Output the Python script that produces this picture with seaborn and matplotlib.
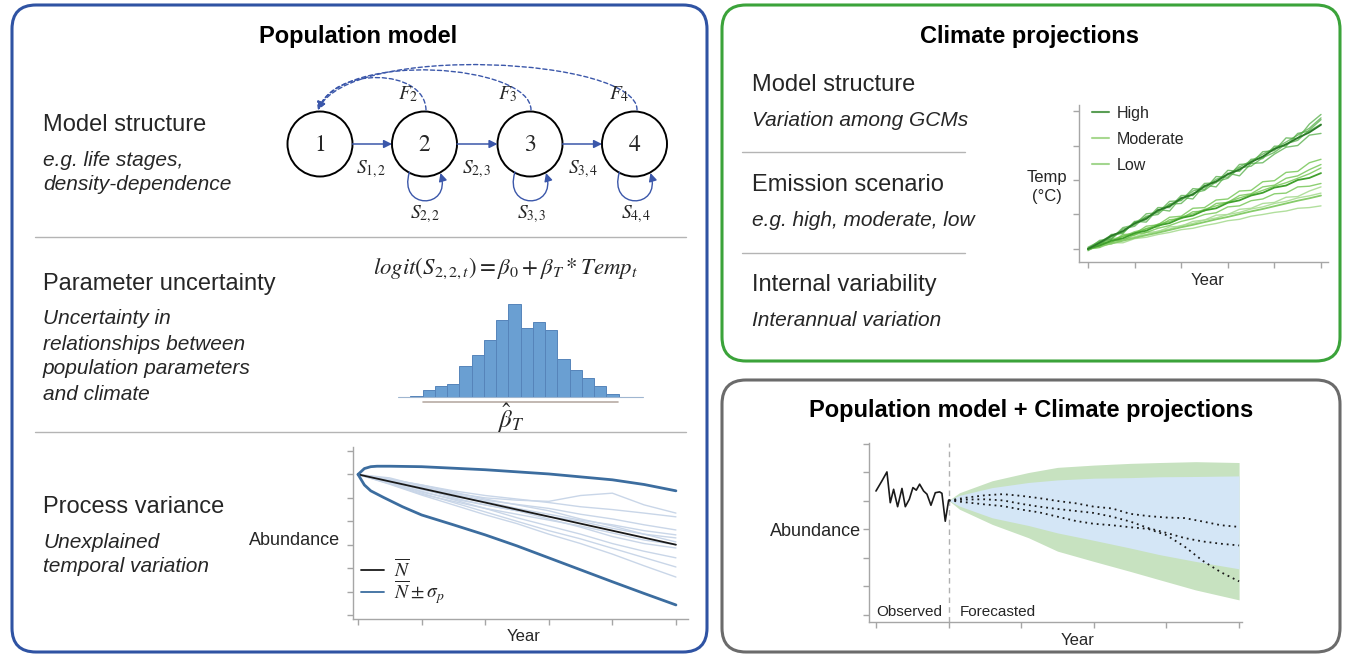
import numpy as np
import pandas as pd
import matplotlib
matplotlib.use("Agg")
import matplotlib.pyplot as plt
import seaborn as sns
from matplotlib.patches import FancyBboxPatch, Circle, FancyArrowPatch
from matplotlib.path import Path
from matplotlib.lines import Line2D

sns.set_style("white")
plt.rcParams['font.family'] = ['Liberation Sans', 'DejaVu Sans']
plt.rcParams['mathtext.fontset'] = 'stix'

# ---------------- data ----------------
# histogram of beta_T
hist_counts = [1, 3, 20, 32, 38, 93, 125, 170, 231, 278, 206, 224, 200, 113, 80, 57, 33, 8, 1, 1]

# process variance panel
pv_years = [0, 5, 10, 15, 20, 25, 30, 35, 40, 45, 50]
pv_mean = [6.0, 5.7, 5.4, 5.1, 4.8, 4.5, 4.2, 3.9, 3.6, 3.3, 3.0]
pv_up_years = [0, 1, 2, 3, 5, 10, 20, 30, 40, 45, 50]
pv_upper = [6.0, 6.25, 6.33, 6.35, 6.35, 6.33, 6.20, 6.02, 5.77, 5.57, 5.30]
pv_lo_years = [0, 1, 2, 4, 7, 10, 15, 20, 25, 30, 35, 40, 45, 50]
pv_lower = [6.0, 5.55, 5.30, 5.02, 4.62, 4.27, 3.85, 3.42, 2.95, 2.44, 1.93, 1.42, 0.92, 0.43]
pv_runs = [
    [6.0, 5.80, 5.55, 5.30, 5.10, 4.95, 4.80, 4.62, 4.50, 4.35, 4.19],
    [6.0, 5.85, 5.50, 5.20, 5.00, 4.90, 4.85, 5.10, 5.20, 4.70, 4.35],
    [6.0, 5.75, 5.45, 5.15, 4.90, 4.72, 4.55, 4.30, 4.10, 3.85, 3.63],
    [6.0, 5.70, 5.35, 5.05, 4.85, 4.55, 4.30, 4.05, 3.85, 3.60, 3.42],
    [6.0, 5.65, 5.25, 4.95, 4.70, 4.45, 4.20, 4.00, 3.70, 3.45, 3.29],
    [6.0, 5.78, 5.55, 5.25, 4.95, 4.70, 4.45, 4.10, 3.80, 3.45, 3.12],
    [6.0, 5.60, 5.15, 4.85, 4.55, 4.30, 4.05, 3.80, 3.50, 3.20, 3.00],
    [6.0, 5.72, 5.40, 5.00, 4.70, 4.45, 4.10, 3.75, 3.35, 3.05, 2.86],
    [6.0, 5.66, 5.28, 4.92, 4.55, 4.15, 3.80, 3.45, 3.05, 2.72, 2.44],
    [6.0, 5.62, 5.20, 4.80, 4.40, 4.00, 3.60, 3.25, 2.85, 2.45, 2.05],
    [6.0, 5.58, 5.12, 4.70, 4.28, 3.90, 3.45, 3.05, 2.60, 2.10, 1.62],
]

# climate projections panel
cl_years = list(range(0, 101, 5))
high_mean = [0.0, 0.18, 0.38, 0.52, 0.74, 0.88, 1.12, 1.24, 1.47, 1.58, 1.82, 1.96, 2.17, 2.30, 2.52, 2.68, 2.90, 3.03, 3.22, 3.38, 3.60]
high_runs = [
    [0.0, 0.25, 0.30, 0.62, 0.70, 1.02, 1.05, 1.38, 1.40, 1.75, 1.72, 2.10, 2.08, 2.45, 2.48, 2.82, 2.85, 3.22, 3.20, 3.62, 3.90],
    [0.0, 0.10, 0.42, 0.45, 0.80, 0.78, 1.15, 1.10, 1.50, 1.45, 1.85, 1.80, 2.20, 2.12, 2.48, 2.50, 2.75, 2.95, 3.00, 3.30, 3.35],
    [0.05, 0.22, 0.28, 0.58, 0.66, 0.95, 1.00, 1.30, 1.32, 1.62, 1.70, 1.95, 2.05, 2.35, 2.40, 2.65, 2.80, 3.05, 3.15, 3.45, 3.75],
    [-0.05, 0.15, 0.35, 0.50, 0.75, 0.85, 1.20, 1.20, 1.55, 1.55, 1.90, 1.92, 2.28, 2.25, 2.60, 2.62, 2.98, 2.98, 3.35, 3.42, 3.62],
    [0.02, 0.20, 0.40, 0.48, 0.78, 0.92, 1.08, 1.30, 1.42, 1.68, 1.78, 2.02, 2.15, 2.38, 2.55, 2.75, 2.92, 3.10, 3.30, 3.50, 3.80],
]
mod_mean = [0.0, 0.10, 0.24, 0.31, 0.46, 0.53, 0.68, 0.75, 0.90, 0.97, 1.12, 1.18, 1.34, 1.41, 1.55, 1.63, 1.78, 1.84, 2.00, 2.06, 2.20]
mod_runs = [
    [0.0, 0.18, 0.20, 0.42, 0.44, 0.66, 0.70, 0.92, 0.95, 1.18, 1.20, 1.42, 1.45, 1.68, 1.70, 1.95, 1.98, 2.22, 2.25, 2.50, 2.60],
    [0.0, 0.05, 0.25, 0.25, 0.42, 0.48, 0.60, 0.68, 0.80, 0.88, 1.00, 1.05, 1.22, 1.25, 1.40, 1.45, 1.60, 1.62, 1.80, 1.82, 1.90],
    [0.02, 0.15, 0.28, 0.36, 0.50, 0.58, 0.72, 0.80, 0.93, 1.02, 1.15, 1.25, 1.36, 1.48, 1.58, 1.70, 1.82, 1.92, 2.05, 2.18, 2.35],
    [-0.02, 0.12, 0.18, 0.38, 0.40, 0.60, 0.64, 0.85, 0.88, 1.08, 1.10, 1.32, 1.35, 1.55, 1.60, 1.80, 1.85, 2.05, 2.12, 2.30, 2.45],
]
low_mean = [0.0, 0.08, 0.16, 0.24, 0.32, 0.40, 0.47, 0.55, 0.63, 0.70, 0.78, 0.86, 0.93, 1.01, 1.09, 1.16, 1.24, 1.32, 1.40, 1.47, 1.55]
low_runs = [
    [0.0, 0.12, 0.14, 0.30, 0.33, 0.48, 0.50, 0.64, 0.66, 0.80, 0.84, 0.98, 1.00, 1.15, 1.18, 1.32, 1.35, 1.50, 1.52, 1.68, 1.80],
    [0.0, 0.04, 0.18, 0.18, 0.30, 0.34, 0.42, 0.48, 0.56, 0.60, 0.68, 0.74, 0.82, 0.86, 0.95, 1.00, 1.06, 1.10, 1.18, 1.20, 1.25],
    [-0.03, 0.10, 0.20, 0.26, 0.36, 0.42, 0.52, 0.58, 0.68, 0.74, 0.84, 0.90, 1.00, 1.06, 1.16, 1.22, 1.32, 1.38, 1.48, 1.54, 1.62],
]
scenario_labels = ["High", "Moderate", "Low"]

# population model + climate panel
obs_years = [0, 0.83, 1.51, 1.97, 2.43, 2.98, 3.58, 4.04, 4.59, 5.09, 5.55, 6.01, 6.56, 7.02, 7.57, 8.17, 8.76, 9.08, 9.54, 10.0]
obs_values = [4.35, 4.71, 5.02, 3.94, 4.41, 3.80, 4.44, 3.80, 4.06, 4.47, 4.38, 4.59, 4.35, 4.24, 3.85, 4.29, 4.32, 4.27, 3.29, 4.02]
band_years = [10, 11.5, 16, 21, 25, 30, 35, 39, 44, 50]
green_upper = [4.02, 4.29, 4.71, 5.00, 5.18, 5.26, 5.32, 5.35, 5.38, 5.35]
green_lower = [4.02, 3.71, 3.18, 2.71, 2.24, 1.88, 1.53, 1.24, 0.88, 0.53]
blue_upper = [4.02, 4.20, 4.47, 4.65, 4.74, 4.80, 4.82, 4.85, 4.86, 4.88]
blue_lower = [4.02, 3.82, 3.41, 3.14, 2.88, 2.62, 2.35, 2.12, 1.88, 1.62]
fc_years = [10, 12.5, 15, 17.5, 20, 22.5, 25, 27.5, 30, 32.5, 35, 37.5, 40, 42.5, 45, 47.5, 50]
fc_a = [4.02, 4.12, 4.20, 4.24, 4.18, 4.10, 4.00, 3.92, 3.80, 3.74, 3.55, 3.47, 3.42, 3.40, 3.28, 3.15, 3.09]
fc_b = [4.02, 4.05, 4.06, 4.02, 3.90, 3.80, 3.72, 3.65, 3.58, 3.45, 3.28, 3.05, 2.88, 2.70, 2.58, 2.50, 2.44]
fc_c = [4.02, 3.95, 3.88, 3.82, 3.70, 3.60, 3.45, 3.30, 3.20, 3.15, 3.08, 3.02, 2.80, 2.40, 1.90, 1.50, 1.18]

# ---------------- figure ----------------
W, H = 1346, 655
fig = plt.figure(figsize=(W / 100, H / 100), dpi=100)
bg = fig.add_axes([0, 0, 1, 1])
bg.set_xlim(0, W)
bg.set_ylim(H, 0)
bg.axis('off')


def rect(x0, y0, x1, y1):
    return [x0 / W, 1 - y1 / H, (x1 - x0) / W, (y1 - y0) / H]


def style_axes(ax, xt, yt, xlim, ylim):
    sns.despine(ax=ax)
    for s in ['left', 'bottom']:
        ax.spines[s].set_color('#a6a6a6')
        ax.spines[s].set_linewidth(1)
    ax.set_xticks(xt)
    ax.set_yticks(yt)
    ax.set_xlim(*xlim)
    ax.set_ylim(*ylim)
    ax.tick_params(bottom=True, left=True, length=4, width=1, color='#a6a6a6',
                   labelbottom=False, labelleft=False, direction='out')
    ax.set_facecolor('none')


# boxes
for (x0, y0, x1, y1, col) in [(12, 5, 707, 652, '#2f53a3'),
                              (722, 5, 1340, 361, '#3ba33a'),
                              (722, 380, 1340, 652, '#6b6b6b')]:
    bg.add_patch(FancyBboxPatch((x0, y0), x1 - x0, y1 - y0,
                                boxstyle="round,pad=0,rounding_size=24",
                                fill=False, edgecolor=col, linewidth=2.2))

# separators
for (x0, x1, y) in [(35, 686, 237), (35, 686, 432), (742, 965, 152), (742, 965, 253)]:
    bg.plot([x0, x1], [y, y], color='#b4b4b4', lw=1)

# titles
title_kw = dict(fontsize=17, fontweight='bold', ha='center', va='center', color='black')
bg.text(358, 37, "Population model", **title_kw)
bg.text(1030, 37, "Climate projections", **title_kw)
bg.text(1031, 410, "Population model + Climate projections", **title_kw)

head_kw = dict(fontsize=17, ha='left', va='center')
ital_kw = dict(fontsize=15, ha='left', va='center', style='italic')
for t, y in [("Model structure", 125), ("Parameter uncertainty", 284), ("Process variance", 507)]:
    bg.text(43, y, t, **head_kw)
for t, y in [("e.g. life stages,", 161), ("density-dependence", 185), ("Uncertainty in", 319),
             ("relationships between", 344), ("population parameters", 369), ("and climate", 394),
             ("Unexplained", 542), ("temporal variation", 567)]:
    bg.text(43, y, t, **ital_kw)
for t, y in [("Model structure", 85), ("Emission scenario", 185), ("Internal variability", 285)]:
    bg.text(752, y, t, **head_kw)
for t, y in [("Variation among GCMs", 120), ("e.g. high, moderate, low", 220), ("Interannual variation", 320)]:
    bg.text(752, y, t, **ital_kw)

# ---------------- life-cycle diagram ----------------
arrow_col = '#3b57aa'
centers = [320, 424.5, 530, 634.5]
cy = 144
r = 32.5
for i, cx in enumerate(centers):
    bg.add_patch(Circle((cx, cy), r, fill=False, edgecolor='black', lw=1.4))
    bg.text(cx, cy + 1, str(i + 1), fontsize=17, ha='center', va='center', family='STIXGeneral')

for i in range(3):
    a = FancyArrowPatch((centers[i] + r, cy), (centers[i + 1] - r, cy),
                        arrowstyle='-|>', mutation_scale=12, color=arrow_col, lw=1.1,
                        shrinkA=0, shrinkB=0)
    bg.add_patch(a)
for lab, x in [(r"$S_{1,2}$", 371), (r"$S_{2,3}$", 477), (r"$S_{3,4}$", 583)]:
    bg.text(x, 169, lab, fontsize=14, ha='center', va='center')

for cx in centers[1:]:
    p = Path([(cx - 15, 172), (cx - 27, 210), (cx + 27, 210), (cx + 16, 173)],
             [Path.MOVETO, Path.CURVE4, Path.CURVE4, Path.CURVE4])
    bg.add_patch(FancyArrowPatch(path=p, arrowstyle='-|>', mutation_scale=12,
                                 color=arrow_col, lw=1.0))
for lab, x in [(r"$S_{2,2}$", 425), (r"$S_{3,3}$", 532), (r"$S_{4,4}$", 636)]:
    bg.text(x, 214, lab, fontsize=14, ha='center', va='center')

for (sx, c1, c2) in [(426, (425, 68), (335, 66)),
                     (531, (531, 64), (342, 50)),
                     (637, (638, 58), (350, 42))]:
    p = Path([(sx, 110), c1, c2, (318, 110)],
             [Path.MOVETO, Path.CURVE4, Path.CURVE4, Path.CURVE4])
    bg.add_patch(FancyArrowPatch(path=p, arrowstyle='-|>', mutation_scale=12,
                                 color=arrow_col, lw=1.0, linestyle=(0, (3, 2))))
for lab, x in [(r"$F_2$", 408), (r"$F_3$", 508), (r"$F_4$", 619)]:
    bg.text(x, 94, lab, fontsize=14, ha='center', va='center')

# ---------------- histogram ----------------
bg.text(506, 268, r"$logit\left(S_{2,2,t}\right) = \beta_0 + \beta_T * Temp_t$",
        fontsize=16.5, ha='center', va='center')
axh = fig.add_axes(rect(398, 300, 643, 397))
nb = len(hist_counts)
hist_df = pd.DataFrame({"beta": np.arange(nb) + 0.5, "count": hist_counts})
sns.histplot(data=hist_df, x="beta", weights="count", bins=nb, binrange=(0, nb), ax=axh,
             color='#6a9fd2', edgecolor='#5684ba', linewidth=0.7, alpha=1)
axh.set_xlim(0, nb)
axh.set_ylim(0, 291)
axh.axis('off')
bg.plot([398, 643], [397, 397], color='#9fb6d0', lw=0.8)
bg.plot([423, 618], [402, 402], color='#b8aca4', lw=1.2)
bg.text(511, 418, r"$\hat{\beta}_T$", fontsize=18, ha='center', va='center')

# ---------------- process variance ----------------
axp = fig.add_axes(rect(353, 447, 688, 619))
for run in pv_runs:
    sns.lineplot(x=pv_years, y=run, ax=axp, color='#c9d6e8', lw=1)
sns.lineplot(x=pv_years, y=pv_mean, ax=axp, color='#1a1a1a', lw=1.3, label=r"$\overline{N}$")
sns.lineplot(x=pv_up_years, y=pv_upper, ax=axp, color='#3c6d9f', lw=2, label=r"$\overline{N} \pm \sigma_p$")
sns.lineplot(x=pv_lo_years, y=pv_lower, ax=axp, color='#3c6d9f', lw=2)
style_axes(axp, range(0, 51, 10), range(0, 8), (-0.79, 51.9), (-0.17, 7.17))
leg = axp.legend(loc='upper left', bbox_to_anchor=(0.0, 0.40), frameon=False, fontsize=14,
                 handlelength=1.2, handletextpad=0.5, labelspacing=-0.1, borderaxespad=0)
for h in leg.get_lines():
    h.set_linewidth(1.3)
axp.set_xlabel("Year", fontsize=12)
axp.xaxis.set_label_coords(0.51, -0.099)
axp.xaxis.label.set_va('center')
axp.set_ylabel("Abundance", fontsize=13, rotation=0, ha='right', va='center')
axp.yaxis.set_label_coords(-0.039, 0.459)

# ---------------- climate projections ----------------
axc = fig.add_axes(rect(1079, 105, 1328, 262))
for run in low_runs:
    sns.lineplot(x=cl_years, y=run, ax=axc, color='#a9dc93', lw=1, alpha=0.9)
for run in mod_runs:
    sns.lineplot(x=cl_years, y=run, ax=axc, color='#66c043', lw=1, alpha=0.75)
for run in high_runs:
    sns.lineplot(x=cl_years, y=run, ax=axc, color='#52ad45', lw=1, alpha=0.75)
sns.lineplot(x=cl_years, y=low_mean, ax=axc, color='#86cc6a', lw=1.3)
sns.lineplot(x=cl_years, y=mod_mean, ax=axc, color='#40a02c', lw=1.3)
sns.lineplot(x=cl_years, y=high_mean, ax=axc, color='#2b7a28', lw=1.3)
style_axes(axc, range(0, 101, 20), range(0, 5), (-3.86, 103.0), (-0.377, 4.174))
handles = [Line2D([], [], color=c, lw=1.5) for c in ['#5a9e55', '#a8d890', '#a3d68f']]
axc.legend(handles, scenario_labels, loc='upper left', bbox_to_anchor=(0.025, 1.035), frameon=False,
           fontsize=11.5, handlelength=1.1, handletextpad=0.45, labelspacing=0.68, borderaxespad=0)
axc.set_xlabel("Year", fontsize=12)
axc.xaxis.set_label_coords(0.518, -0.115)
axc.xaxis.label.set_va('center')
axc.set_ylabel("Temp\n(°C)", fontsize=12, rotation=0, ha='center', va='center', linespacing=1.35)
axc.yaxis.set_label_coords(-0.129, 0.478)

# ---------------- population model + climate ----------------
axf = fig.add_axes(rect(869, 443, 1242, 622))
axf.fill_between(band_years, green_lower, green_upper, color='#c7e2c0', lw=0)
axf.fill_between(band_years, blue_lower, blue_upper, color='#d4e6f6', lw=0)
axf.axvline(10, color='#b0b0b0', ls=(0, (4, 3)), lw=1)
sns.lineplot(x=obs_years, y=obs_values, ax=axf, color='#1a1a1a', lw=1.2)
for fc in [fc_a, fc_b, fc_c]:
    sns.lineplot(x=fc_years, y=fc, ax=axf, color='#1a1a1a', lw=1.3, linestyle=(0, (1, 2.2)))
style_axes(axf, range(0, 51, 10), range(0, 7), (-0.96, 50.4), (-0.246, 6.035))
axf.text(0.1, 0.1, "Observed", fontsize=11, ha='left', va='center')
axf.text(11.5, 0.1, "Forecasted", fontsize=11, ha='left', va='center')
axf.set_xlabel("Year", fontsize=12)
axf.xaxis.set_label_coords(0.56, -0.106)
axf.xaxis.label.set_va('center')
axf.set_ylabel("Abundance", fontsize=13, rotation=0, ha='right', va='center')
axf.yaxis.set_label_coords(-0.021, 0.503)

fig.savefig("out.png", dpi=100)
